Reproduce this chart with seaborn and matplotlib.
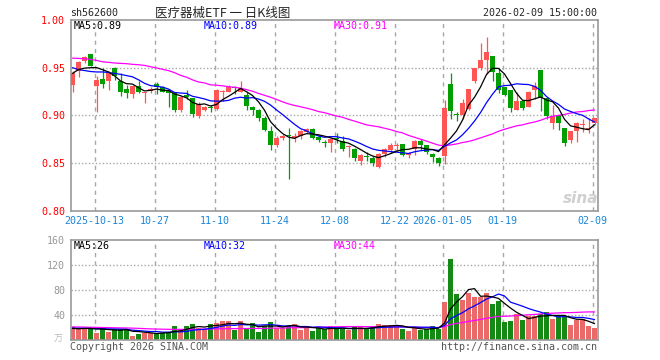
"""Sina-style daily K-line chart for 医疗器械ETF (sh562600), with volume panel."""

import matplotlib
matplotlib.use("Agg")
import matplotlib.pyplot as plt
import numpy as np
import pandas as pd
import seaborn as sns

# ---------------------------------------------------------------------------
# Data
# ---------------------------------------------------------------------------

opens = [0.932, 0.946, 0.957, 0.964, 0.931, 0.938, 0.936, 0.950, 0.936, 0.928,
         0.922, 0.931, 0.923, 0.926, 0.933, 0.930, 0.926, 0.9236, 0.906, 0.921,
         0.918, 0.899, 0.906, 0.909, 0.907, 0.925, 0.924, 0.930, 0.925, 0.921,
         0.909, 0.906, 0.897, 0.884, 0.869, 0.876, 0.879, 0.876, 0.878, 0.883,
         0.886, 0.877, 0.872, 0.8715, 0.876, 0.873, 0.867, 0.865, 0.852, 0.857,
         0.855, 0.846, 0.859, 0.864, 0.868, 0.870, 0.858, 0.865, 0.873, 0.869,
         0.859, 0.855, 0.8576, 0.933, 0.901, 0.900, 0.907, 0.936, 0.950, 0.9576,
         0.9625, 0.944, 0.9295, 0.927, 0.906, 0.915, 0.909, 0.927, 0.948, 0.918,
         0.8917, 0.900, 0.8865, 0.874, 0.8837, 0.890, 0.8854, 0.8917]
highs = [0.946, 0.957, 0.962, 0.964, 0.941, 0.950, 0.946, 0.951, 0.944, 0.932,
         0.932, 0.936, 0.925, 0.930, 0.935, 0.931, 0.928, 0.925, 0.920, 0.927,
         0.918, 0.914, 0.910, 0.911, 0.928, 0.927, 0.932, 0.931, 0.936, 0.925,
         0.910, 0.907, 0.899, 0.889, 0.878, 0.880, 0.887, 0.882, 0.885, 0.887,
         0.887, 0.879, 0.874, 0.876, 0.881, 0.878, 0.869, 0.866, 0.859, 0.862,
         0.857, 0.861, 0.866, 0.871, 0.871, 0.870, 0.862, 0.874, 0.875, 0.869,
         0.861, 0.856, 0.9156, 0.9444, 0.9035, 0.9167, 0.928, 0.950, 0.9764, 0.9826,
         0.9625, 0.9497, 0.930, 0.927, 0.924, 0.915, 0.926, 0.935, 0.948, 0.918,
         0.9104, 0.900, 0.8865, 0.884, 0.893, 0.8965, 0.897, 0.8976]
lows = [0.925, 0.940, 0.955, 0.952, 0.9035, 0.929, 0.927, 0.937, 0.920, 0.918,
        0.918, 0.923, 0.913, 0.923, 0.922, 0.924, 0.909, 0.904, 0.9035, 0.9167,
        0.898, 0.897, 0.905, 0.903, 0.906, 0.915, 0.924, 0.922, 0.925, 0.906,
        0.900, 0.894, 0.884, 0.8635, 0.867, 0.874, 0.833, 0.872, 0.875, 0.882,
        0.875, 0.872, 0.867, 0.862, 0.871, 0.863, 0.856, 0.852, 0.848, 0.852,
        0.847, 0.845, 0.856, 0.861, 0.863, 0.857, 0.855, 0.858, 0.864, 0.859,
        0.851, 0.847, 0.849, 0.896, 0.894, 0.896, 0.9056, 0.934, 0.948, 0.943,
        0.936, 0.9236, 0.920, 0.9035, 0.9056, 0.9056, 0.909, 0.917, 0.9045, 0.896,
        0.8854, 0.8844, 0.868, 0.8715, 0.872, 0.8826, 0.882, 0.890]
closes = [0.944, 0.956, 0.961, 0.952, 0.9375, 0.933, 0.944, 0.941, 0.925, 0.923,
          0.931, 0.925, 0.924, 0.928, 0.930, 0.925, 0.9236, 0.9056, 0.919, 0.919,
          0.901, 0.912, 0.909, 0.908, 0.927, 0.926, 0.930, 0.929, 0.929, 0.910,
          0.906, 0.897, 0.885, 0.869, 0.876, 0.878, 0.878, 0.878, 0.884, 0.886,
          0.876, 0.874, 0.871, 0.8757, 0.875, 0.865, 0.868, 0.855, 0.858, 0.856,
          0.850, 0.859, 0.865, 0.869, 0.869, 0.858, 0.861, 0.873, 0.869, 0.862,
          0.856, 0.850, 0.908, 0.9045, 0.900, 0.9125, 0.928, 0.950, 0.958, 0.966,
          0.945, 0.927, 0.921, 0.908, 0.915, 0.908, 0.925, 0.9305, 0.918, 0.899,
          0.899, 0.8917, 0.8715, 0.8837, 0.892, 0.891, 0.887, 0.897]

ma5 = [0.944, 0.948, 0.9495, 0.950, 0.9501, 0.9479, 0.9455, 0.9415, 0.9361, 0.9332,
       0.9328, 0.929, 0.9256, 0.9262, 0.9276, 0.9264, 0.9261, 0.9224, 0.9206, 0.9184,
       0.9136, 0.9113, 0.912, 0.9098, 0.9114, 0.9164, 0.920, 0.924, 0.9282, 0.9248,
       0.9208, 0.9142, 0.9054, 0.8934, 0.8866, 0.881, 0.8772, 0.8758, 0.8788, 0.8808,
       0.8804, 0.8796, 0.8782, 0.8765, 0.8743, 0.8721, 0.8709, 0.8677, 0.8642, 0.8604,
       0.8574, 0.8556, 0.8576, 0.8598, 0.8624, 0.864, 0.8644, 0.866, 0.866, 0.8646,
       0.8642, 0.862, 0.869, 0.8761, 0.8837, 0.895, 0.9106, 0.919, 0.9297, 0.9429,
       0.9494, 0.9492, 0.9434, 0.9334, 0.9232, 0.9158, 0.9154, 0.9173, 0.9193, 0.9161,
       0.9143, 0.9076, 0.8958, 0.889, 0.8876, 0.886, 0.885, 0.8901]
ma10 = [0.950, 0.948, 0.947, 0.946, 0.9455, 0.9455, 0.945, 0.944, 0.943, 0.9417,
        0.9404, 0.9373, 0.9336, 0.9312, 0.9304, 0.9296, 0.9276, 0.924, 0.9234, 0.923,
        0.920, 0.9187, 0.9172, 0.9152, 0.9149, 0.915, 0.9157, 0.918, 0.919, 0.9181,
        0.9186, 0.9171, 0.9147, 0.9108, 0.9057, 0.9009, 0.8957, 0.8906, 0.8861, 0.8837,
        0.8807, 0.8784, 0.877, 0.8777, 0.8776, 0.8763, 0.8753, 0.873, 0.8704, 0.8674,
        0.8648, 0.8633, 0.8627, 0.862, 0.8614, 0.8607, 0.860, 0.8618, 0.8629, 0.8635,
        0.8641, 0.8632, 0.8675, 0.8711, 0.8742, 0.8796, 0.8863, 0.894, 0.9029, 0.9133,
        0.9222, 0.9299, 0.9312, 0.9316, 0.9331, 0.9326, 0.9323, 0.9304, 0.9264, 0.9197,
        0.9151, 0.9115, 0.9066, 0.9041, 0.9018, 0.9001, 0.8963, 0.893]
ma30 = [0.960, 0.9597, 0.9594, 0.9587, 0.9576, 0.9562, 0.9556, 0.9549, 0.9545, 0.9542,
        0.9535, 0.9531, 0.9524, 0.951, 0.9497, 0.9483, 0.9469, 0.9448, 0.942, 0.940,
        0.9372, 0.935, 0.934, 0.932, 0.9316, 0.931, 0.930, 0.9295, 0.9285, 0.927,
        0.9253, 0.923, 0.921, 0.919, 0.9167, 0.9142, 0.912, 0.9104, 0.909, 0.9076,
        0.906, 0.904, 0.9028, 0.901, 0.8993, 0.898, 0.8958, 0.894, 0.892, 0.890,
        0.889, 0.888, 0.8865, 0.885, 0.883, 0.8816, 0.879, 0.877, 0.875, 0.873,
        0.8708, 0.8688, 0.868, 0.869, 0.870, 0.8715, 0.8726, 0.8743, 0.8764, 0.8785,
        0.8806, 0.8833, 0.8854, 0.8872, 0.889, 0.890, 0.8917, 0.893, 0.8948, 0.8972,
        0.899, 0.900, 0.901, 0.9024, 0.9035, 0.904, 0.905, 0.9056]

volume = [21, 17, 20, 19, 11.5, 20, 12.5, 17, 17, 17,
          6.5, 10, 12, 12, 11, 10.5, 12.5, 22, 17, 23,
          25.6, 20, 18, 25.6, 27.5, 30.4, 30.4, 16.2, 30.4, 18.5,
          27.5, 12.8, 23, 29, 19.5, 19.5, 23, 25.6, 16.8, 19,
          15, 19, 17.5, 21.9, 18.1, 18.1, 15.5, 20.3, 20.3, 18.1,
          21.9, 26.2, 23.5, 23.5, 21.9, 18.1, 13.9, 20.3, 16.5, 18.1,
          21.9, 18.1, 60.8, 129.6, 73.6, 64.5, 75.2, 68.3, 68.3, 75.2,
          57.6, 63, 28.8, 30.9, 41.6, 32, 37.9, 37.9, 41.6, 44.8,
          34.1, 37.9, 37.9, 24, 32, 33, 23, 19]
vol_ma5 = [18.5, 18, 18.5, 18.5, 17.7, 17.5, 16.6, 16, 15.6, 16.7,
           14, 13.5, 12.5, 11.5, 10.3, 11.1, 11.6, 13.6, 14.6, 17,
           20, 21.5, 20.7, 22.4, 23.3, 24.3, 26.4, 26, 27, 25.2,
           24.6, 21.1, 22.4, 22.2, 22.4, 20.8, 22.8, 23.3, 20.9, 20.8,
           19.9, 19.1, 17.5, 18.5, 18.3, 18.9, 18.2, 18.8, 18.5, 18.5,
           19.2, 21.4, 22, 22.6, 23.4, 22.6, 20.2, 19.5, 18.1, 17.4,
           18.1, 19, 27.1, 49.7, 60.8, 69.3, 80.7, 82.2, 70, 70.3,
           68.9, 66.5, 58.6, 51.1, 44.4, 39.3, 34.2, 36.1, 38.2, 38.8,
           39.3, 39.3, 39.3, 35.7, 33.2, 33, 30, 26.2]
vol_ma10 = [19, 18.8, 18.6, 18.4, 18.2, 18, 17.8, 17.6, 17.4, 17.2,
            15.75, 15.05, 14.25, 13.55, 13.5, 12.55, 12.55, 13.05, 13.05, 13.65,
            15.56, 16.56, 17.16, 18.52, 20.17, 22.16, 23.95, 23.37, 24.71, 24.26,
            24.45, 23.73, 24.23, 24.57, 23.77, 22.68, 21.94, 22.88, 21.52, 21.57,
            20.32, 20.94, 20.39, 19.68, 19.54, 19.4, 18.65, 18.12, 18.47, 18.38,
            19.07, 19.79, 20.39, 20.55, 20.93, 20.93, 20.77, 20.77, 20.39, 20.39,
            20.39, 19.58, 23.31, 33.92, 39.09, 43.73, 49.86, 54.66, 59.84, 65.55,
            69.12, 73.61, 70.41, 60.54, 57.34, 54.09, 50.36, 47.32, 44.65, 41.61,
            39.26, 36.75, 37.66, 36.97, 36.01, 36.11, 34.62, 32.73]
vol_ma30 = [21, 20.8, 20.6, 20.4, 20.2, 20, 19.8, 19.6, 19.4, 19.2,
            19, 18.6, 18.2, 17.8, 17.5, 17.3, 17.1, 17, 17, 17,
            17.1, 17.2, 17.4, 17.6, 17.8, 18, 18.1, 18.2, 18.3, 18.37,
            18.59, 18.45, 18.55, 18.88, 19.15, 19.13, 19.48, 19.77, 19.76, 19.83,
            20.11, 20.41, 20.59, 20.92, 21.16, 21.41, 21.51, 21.46, 21.57, 21.4,
            21.28, 21.49, 21.67, 21.6, 21.41, 21, 20.45, 20.59, 20.13, 20.11,
            19.93, 20.1, 21.36, 24.72, 26.52, 28.02, 29.76, 31.18, 32.9, 34.77,
            36.19, 37.66, 38.04, 38.34, 39.12, 39.58, 40.33, 40.92, 41.63, 42.52,
            42.92, 43.31, 43.79, 43.81, 44.15, 44.64, 44.95, 44.9]

tick_days = [4, 14, 24, 34, 44, 54, 62, 72, 87]
tick_labels = ["2025-10-13", "10-27", "11-10", "11-24", "12-08",
               "12-22", "2026-01-05", "01-19", "02-09"]
price_ticks = [0.80, 0.85, 0.90, 0.95, 1.00]
vol_ticks = [40, 80, 120, 160]

RED = "#ff5555"
GREEN = "#009e00"
TICKBLUE = "#1a86d8"
GRID = "#a8a8a8"
FRAME = "#999999"

# ---------------------------------------------------------------------------
# Figure
# ---------------------------------------------------------------------------

sns.set_style("white")
plt.rcParams["font.family"] = ["DejaVu Sans Mono", "Noto Sans CJK SC"]

df = pd.DataFrame({"day": np.arange(len(closes)), "open": opens, "high": highs,
                   "low": lows, "close": closes, "ma5": ma5, "ma10": ma10,
                   "ma30": ma30, "volume": volume, "vol_ma5": vol_ma5,
                   "vol_ma10": vol_ma10, "vol_ma30": vol_ma30})
df["dir"] = np.where(df.close >= df.open, "up", "down")
colors = df.dir.map({"up": RED, "down": GREEN})

W, H = 660, 360
fig = plt.figure(figsize=(W / 100, H / 100), dpi=100)
ax = fig.add_axes([70.7 / W, 1 - 210.7 / H, 527 / W, 190.7 / H])
axv = fig.add_axes([70.7 / W, 1 - 340 / H, 527 / W, 100 / H])

grid_x = [d - 0.33 for d in tick_days]


def draw_grid(a, levels):
    for y in levels:
        a.axhline(y, color=GRID, lw=1.0, ls=(0, (1, 1.5)), zorder=1)
    for x in grid_x:
        a.axvline(x, color=GRID, lw=1.0, ls=(0, (3, 3)), zorder=1)


# price panel
draw_grid(ax, price_ticks[1:-1])
ax.vlines(df.day, df.low, df.high, colors=colors, lw=0.9, zorder=2)
body = (df.close - df.open).abs().clip(lower=0.0006)
ax.bar(df.day, body, bottom=df[["open", "close"]].min(axis=1), width=0.8,
       color=colors, linewidth=0, zorder=3)

sns.lineplot(data=df, x="day", y="ma30", ax=ax, color="#ff00ff", lw=0.9, zorder=4)
sns.lineplot(data=df, x="day", y="ma10", ax=ax, color="#0000ff", lw=0.9, zorder=5)
sns.lineplot(data=df, x="day", y="ma5", ax=ax, color="black", lw=0.9, zorder=6)

ax.set_xlim(-0.3, 87.53)
ax.set_ylim(0.80, 1.00)
ax.set_yticks(price_ticks)
ax.set_yticklabels([f"{v:.2f}" for v in price_ticks])
ax.set_xticks(grid_x)
ax.set_xticklabels(tick_labels)
ax.tick_params(axis="y", length=0, pad=4, labelcolor="#ff0000", labelsize=7.2)
ax.tick_params(axis="x", length=0, pad=4, labelcolor=TICKBLUE, labelsize=7.2)
ax.set_xlabel("")
ax.set_ylabel("")

# volume panel
draw_grid(axv, vol_ticks[:-1])
sns.barplot(data=df, x="day", y="volume", hue="dir", native_scale=True,
            palette={"up": RED, "down": GREEN}, width=0.8, errorbar=None,
            legend=False, linewidth=0, ax=axv, zorder=2)
sns.lineplot(data=df, x="day", y="vol_ma30", ax=axv, color="#ff00ff", lw=0.9, zorder=4)
sns.lineplot(data=df, x="day", y="vol_ma10", ax=axv, color="#0000ff", lw=0.9, zorder=5)
sns.lineplot(data=df, x="day", y="vol_ma5", ax=axv, color="black", lw=0.9, zorder=6)

axv.set_xlim(-0.3, 87.53)
axv.set_ylim(0, 160)
axv.set_yticks(vol_ticks)
axv.set_yticklabels([str(v) for v in vol_ticks])
axv.set_xticks([])
axv.tick_params(axis="y", length=0, pad=4, labelcolor=FRAME, labelsize=7.2)
axv.set_xlabel("")
axv.set_ylabel("")

for a in (ax, axv):
    a.set_axisbelow(False)
    for s in a.spines.values():
        s.set_color(FRAME)
        s.set_linewidth(1.2)


def px_text(x, y, s, **kw):
    kw.setdefault("fontsize", 7.2)
    kw.setdefault("va", "center")
    fig.text(x / W, 1 - y / H, s, **kw)


px_text(70, 13, "sh562600")
px_text(223, 13, "医疗器械ETF 一 日K线图", ha="center", fontsize=9,
        family=["Noto Sans CJK SC", "DejaVu Sans"])
px_text(597, 13, "2026-02-09 15:00:00", ha="right")

px_text(74, 26, "MA5:0.89", color="black")
px_text(204, 26, "MA10:0.89", color="#0000ff")
px_text(334, 26, "MA30:0.91", color="#ff00ff")

px_text(74, 246, "MA5:26", color="black")
px_text(204, 246, "MA10:32", color="#0000ff")
px_text(334, 246, "MA30:44", color="#ff00ff")

px_text(63, 339, "万", ha="right", color="#bbbbbb", fontsize=6.5,
        family=["Noto Sans CJK SC", "DejaVu Sans"])
px_text(70, 347, "Copyright 2026 SINA.COM", color="#555555")
px_text(597, 347, "http://finance.sina.com.cn", ha="right", color="#555555")
px_text(581, 198, "sina", ha="center", color="#d0d0d0", fontsize=11,
        style="italic", weight="bold", family=["DejaVu Sans"])

fig.savefig("out.png", dpi=100)
